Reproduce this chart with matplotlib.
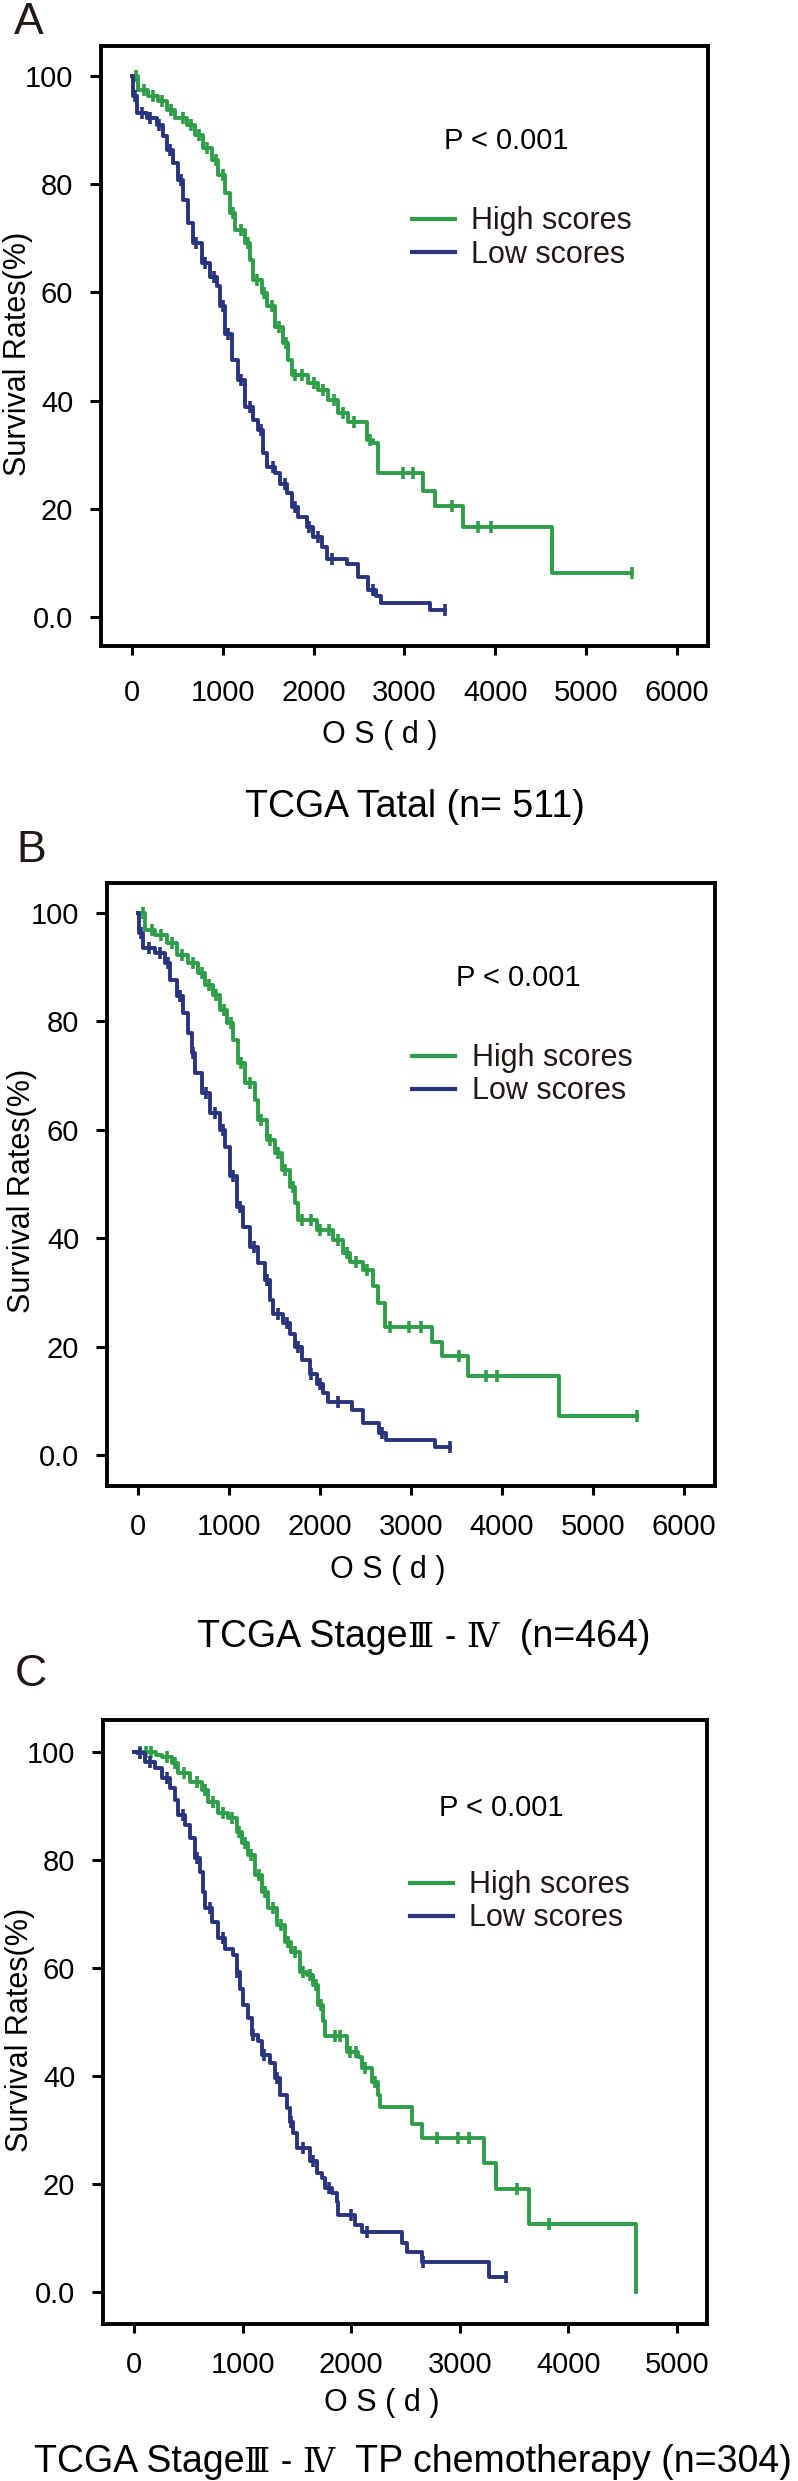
import matplotlib
matplotlib.use('Agg')
import matplotlib.pyplot as plt
import numpy as np

plt.rcParams['font.family'] = ['Liberation Sans', 'Noto Sans CJK SC', 'DejaVu Sans']

# ---------------- data (days, survival %) ----------------
# panel A: TCGA total
a_hi_t = [0, 70, 180, 290, 382, 474, 602, 694, 785, 877, 951, 1024, 1079, 1134, 1245, 1300, 1336, 1428,
          1483, 1575, 1667, 1722, 1759, 1942, 2052, 2162, 2272, 2382, 2585, 2658, 2713, 3200, 3335, 3645,
          4620, 5504]
a_hi_s = [100, 97.4, 96.2, 95.3, 93.7, 92.2, 90.9, 89.1, 86.6, 84.5, 81.7, 78.3, 74.6, 71.5, 69.1, 66.0,
          62.3, 59.8, 57.4, 53.7, 50.6, 47.5, 44.7, 43.2, 42.0, 40.1, 37.7, 36.1, 32.7, 32.1, 26.6, 23.3,
          20.6, 16.7, 8.1, 8.1]
a_hi_cens = [40, 130, 230, 330, 430, 560, 650, 740, 830, 920, 1000, 1110, 1200, 1280, 1380, 1450, 1540,
             1620, 1700, 1800, 1870, 2000, 2100, 2220, 2320, 2450, 2620, 2980, 3099, 3521, 3814, 3955, 5504]
a_lo_t = [0, 15, 51, 161, 272, 345, 382, 455, 510, 565, 620, 675, 767, 859, 933, 969, 1024, 1098, 1171,
          1245, 1336, 1391, 1446, 1483, 1575, 1630, 1703, 1759, 1832, 1924, 1997, 2089, 2144, 2364, 2492,
          2603, 2687, 2744, 3279, 3448]
a_lo_s = [100, 96.2, 93.1, 92.2, 90.9, 88.8, 86.3, 83.9, 80.8, 77.1, 72.8, 69.1, 65.4, 62.9, 61.1, 57.4,
          52.4, 47.5, 43.8, 38.9, 36.4, 34.6, 30.3, 27.8, 26.6, 24.7, 22.9, 20.4, 18.5, 16.7, 14.8, 13.0,
          10.8, 9.9, 7.5, 5.0, 4.0, 2.7, 1.4, 1.4]
a_lo_cens = [30, 110, 200, 300, 420, 540, 700, 800, 900, 1000, 1060, 1200, 1300, 1420, 1550, 1680, 1800,
             1950, 2050, 2200, 2650, 3448]

# panel B: TCGA stage III-IV
b_hi_t = [0, 77, 187, 315, 425, 553, 663, 736, 828, 901, 974, 1048, 1103, 1176, 1286, 1322, 1414, 1505,
          1579, 1670, 1725, 1762, 1963, 2146, 2256, 2330, 2476, 2586, 2641, 2714, 3234, 3346, 3628, 4623,
          5484]
b_hi_s = [100, 96.9, 95.9, 94.4, 92.3, 90.7, 88.9, 86.7, 84.9, 82.1, 79.6, 76.6, 72.3, 68.6, 65.5, 61.8,
          58.1, 55.7, 52.6, 49.5, 46.4, 43.4, 41.5, 39.7, 37.2, 35.7, 34.2, 31.1, 28.0, 23.6, 20.8, 18.2,
          14.6, 7.3, 7.3]
b_hi_cens = [50, 150, 250, 370, 480, 600, 700, 780, 860, 950, 1020, 1130, 1230, 1350, 1450, 1540, 1620,
             1700, 1800, 1900, 2000, 2100, 2200, 2300, 2400, 2520, 2773, 2981, 3105, 3532, 3825, 3948, 5484]
b_lo_t = [0, 10, 58, 187, 297, 352, 425, 498, 553, 590, 626, 700, 791, 901, 956, 1011, 1085, 1157, 1231,
          1322, 1396, 1451, 1487, 1597, 1670, 1725, 1799, 1890, 1963, 2037, 2092, 2348, 2475, 2643, 2728,
          3262, 3431]
b_lo_s = [100, 96.3, 93.5, 92.6, 90.7, 87.6, 84.6, 81.5, 77.8, 74.1, 70.4, 66.7, 63.0, 60.0, 56.9, 51.4,
          45.8, 42.1, 38.4, 35.4, 32.3, 28.6, 26.1, 24.3, 22.4, 20.0, 17.5, 15.0, 13.2, 11.4, 9.8, 8.3, 6.0,
          4.1, 2.8, 1.4, 1.4]
b_lo_cens = [30, 120, 240, 330, 460, 600, 750, 850, 930, 1040, 1120, 1280, 1420, 1540, 1640, 1760, 1900,
             2000, 2200, 2680, 3431]

# panel C: stage III-IV, TP chemotherapy
c_hi_t = [0, 200, 255, 347, 408, 516, 623, 684, 776, 868, 946, 992, 1052, 1114, 1176, 1237, 1314, 1390,
          1450, 1529, 1590, 1651, 1697, 1743, 1759, 1958, 2066, 2097, 2189, 2250, 2265, 2557, 2649, 3219,
          3336, 3641, 4625]
c_hi_s = [100, 99.5, 99.1, 97.9, 96.1, 94.5, 93.0, 90.8, 88.6, 87.7, 85.2, 83.1, 80.9, 77.2, 74.1, 71.1,
          68.0, 64.9, 63.0, 59.3, 58.7, 56.9, 53.1, 50.1, 47.5, 44.5, 43.6, 41.4, 38.9, 36.5, 34.3, 31.2,
          28.5, 23.9, 19.0, 12.6, 0.0]
c_hi_cens = [60, 110, 160, 300, 380, 460, 580, 650, 730, 820, 900, 970, 1020, 1080, 1150, 1210, 1280,
             1350, 1420, 1480, 1560, 1620, 1680, 1720, 1850, 1900, 1990, 2040, 2130, 2220, 2788, 2985,
             3088, 3524, 3819]
c_lo_t = [0, 25, 101, 193, 255, 331, 378, 408, 470, 516, 562, 608, 638, 654, 715, 776, 838, 914, 946,
          976, 1006, 1052, 1084, 1145, 1176, 1252, 1298, 1344, 1406, 1436, 1467, 1498, 1621, 1682, 1728,
          1759, 1820, 1866, 1881, 2035, 2097, 2465, 2514, 2652, 3266, 3430]
c_lo_s = [100, 99.8, 98.2, 97.0, 95.1, 93.3, 91.1, 88.3, 86.5, 84.0, 80.3, 77.8, 74.1, 71.1, 68.6, 65.5,
          63.6, 62.4, 59.3, 56.2, 53.1, 50.7, 47.6, 46.4, 43.9, 42.4, 39.6, 36.5, 34.0, 31.5, 29.4, 26.6,
          24.2, 22.0, 21.1, 19.2, 18.3, 16.7, 14.2, 12.4, 11.2, 9.1, 7.4, 5.5, 2.8, 2.8]
c_lo_cens = [60, 150, 300, 450, 580, 700, 820, 950, 1100, 1200, 1320, 1450, 1560, 1650, 1800, 2000, 2150,
             2660, 3430]

y_ticks = [0, 20, 40, 60, 80, 100]
y_ticklabels = ['0.0', '20', '40', '60', '80', '100']
# captions split so the roman numerals can be set in a serif face
titles = [[('TCGA Tatal (n= 511)', 'sans')],
          [('TCGA Stage', 'sans'), ('\u2162 - \u2163', 'serif'), ('  (n=464)', 'sans')],
          [('TCGA Stage', 'sans'), ('\u2162 - \u2163', 'serif'), ('  TP chemotherapy (n=304)', 'sans')]]
letters = ['A', 'B', 'C']

GREEN = '#2e9e48'
BLUE = '#29347f'
DARK = '#231815'
W, H = 798, 2481


def px_box(l, t, r, b):
    return [l / W, 1 - b / H, (r - l) / W, (b - t) / H]


def surv_at(t, s, x):
    idx = np.searchsorted(t, x, side='right') - 1
    return np.asarray(s)[idx]


def km_panel(ax, hi, lo, xmax, xlim, ylim, p_pos, leg_pos, xlab_pos, ylab_pos, xpad):
    for (t, s, c), col, lab in [(hi, GREEN, 'High scores'), (lo, BLUE, 'Low scores')]:
        ax.step(t, s, where='post', color=col, lw=2.8, label=lab)
        ax.plot(c, surv_at(t, s, c), ls='none', marker='|', ms=8, mew=2.6, color=col)
    ax.set_xlim(*xlim)
    ax.set_ylim(*ylim)
    ax.set_xticks(np.arange(0, xmax + 1, 1000))
    ax.set_yticks(y_ticks)
    ax.set_yticklabels(y_ticklabels)
    for sp in ax.spines.values():
        sp.set_linewidth(2.8)
    ax.tick_params(axis='y', length=8, width=2.2, pad=12, labelsize=21)
    ax.tick_params(axis='x', length=6.5, width=2.2, pad=xpad, labelsize=21)
    ax.text(p_pos[0], p_pos[1], 'P < 0.001', transform=ax.transAxes, ha='center', va='center',
            fontsize=21)
    leg = ax.legend(loc='center left', bbox_to_anchor=leg_pos, frameon=False, fontsize=22,
                    handlelength=1.4, handletextpad=0.55, labelspacing=0.1, borderpad=0,
                    borderaxespad=0)
    for txt in leg.get_texts():
        txt.set_color(DARK)
    for ln in leg.get_lines():
        ln.set_linewidth(3.0)
    ax.set_xlabel('O S ( d )', fontsize=22)
    ax.xaxis.set_label_coords(*xlab_pos)
    ax.xaxis.label.set_va('center')
    ax.set_ylabel('Survival Rates(%)', fontsize=22)
    ax.yaxis.set_label_coords(*ylab_pos)
    ax.yaxis.label.set_va('center')


fig = plt.figure(figsize=(W / 100, H / 100), dpi=100)

axA = fig.add_axes(px_box(101, 46, 708, 646))
km_panel(axA, (a_hi_t, a_hi_s, a_hi_cens), (a_lo_t, a_lo_s, a_lo_cens), 6000,
         (-341, 6343), (-5.3, 105.5), (0.667, 0.842), (0.512, 0.68), (0.460, -0.148),
         (-0.137, 0.487), 17)

axB = fig.add_axes(px_box(107, 883, 715, 1486))
km_panel(axB, (b_hi_t, b_hi_s, b_hi_cens), (b_lo_t, b_lo_s, b_lo_cens), 6000,
         (-341, 6341), (-5.7, 105.5), (0.676, 0.842), (0.502, 0.682), (0.462, -0.139),
         (-0.140, 0.489), 13)

axC = fig.add_axes(px_box(103, 1720, 707, 2324))
km_panel(axC, (c_hi_t, c_hi_s, c_hi_cens), (c_lo_t, c_lo_s, c_lo_cens), 5000,
         (-285, 5276), (-5.9, 105.9), (0.659, 0.854), (0.508, 0.699), (0.462, -0.131),
         (-0.137, 0.487), 13)

# panel letters (pixel positions from the top)
for lab, (x, y) in zip(letters, [(14, 23), (16, 850), (15, 1674)]):
    fig.text(x / W, 1 - y / H, lab, fontsize=32, color=DARK, ha='left', va='center')

# captions: lay the pieces side by side, then centre the whole line
fams = {'sans': ['Liberation Sans', 'DejaVu Sans'], 'serif': ['DejaVu Serif', 'Noto Sans CJK SC']}
sizes = {'sans': 27, 'serif': 24}
renderer = fig.canvas.get_renderer()
for parts, (xc, yc) in zip(titles, [(415, 804), (424, 1634), (413, 2459)]):
    pieces = [fig.text(0, 1 - yc / H, txt, family=fams[kind], fontsize=sizes[kind],
                       ha='left', va='baseline') for txt, kind in parts]
    widths = [p.get_window_extent(renderer).width for p in pieces]
    x = xc - sum(widths) / 2
    for p, w in zip(pieces, widths):
        p.set_x(x / W)
        x += w
    # baseline sits about a third of the font size below the visual centre
    for p in pieces:
        p.set_y(1 - (yc + 13) / H)

fig.savefig('out.png', dpi=100)
